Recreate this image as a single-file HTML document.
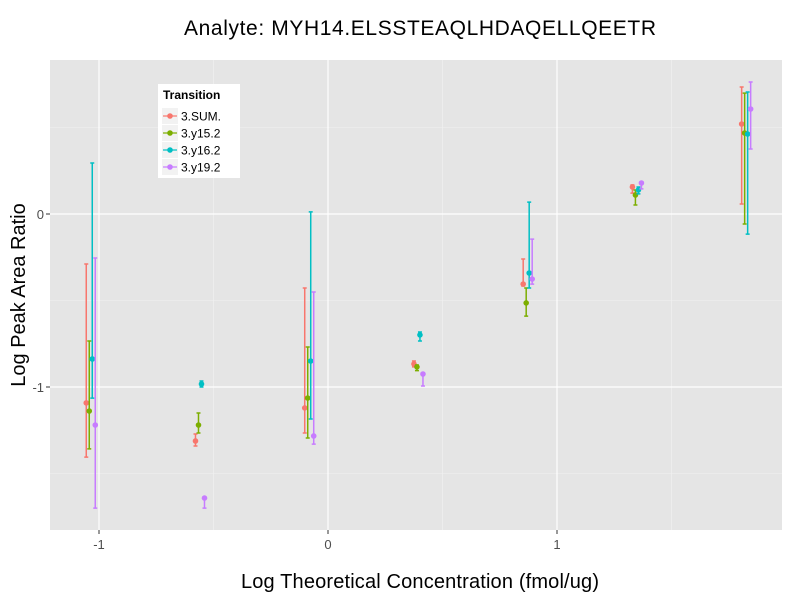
<!DOCTYPE html>
<html><head><meta charset="utf-8"><style>
body{margin:0;background:#fff;}
svg{font-family:"Liberation Sans",sans-serif;}
</style></head><body>
<svg id="chart" width="800" height="600" xmlns="http://www.w3.org/2000/svg">
<rect width="800" height="600" fill="#fff"/>
<text x="420" y="35" font-size="21" text-anchor="middle" textLength="472">Analyte: MYH14.ELSSTEAQLHDAQELLQEETR</text>
<rect x="50" y="60" width="732" height="470" fill="#e5e5e5"/>
<g id="grid"></g>
<g id="marks"></g>
<g id="axes"></g>
<text x="420" y="588" font-size="20" text-anchor="middle" textLength="358">Log Theoretical Concentration (fmol/ug)</text>
<text transform="translate(25,295) rotate(-90)" font-size="20" text-anchor="middle">Log Peak Area Ratio</text>
<g id="legend">
<rect x="158" y="84" width="82" height="94" fill="#fff"/>
<text x="163" y="99" font-size="12" font-weight="bold">Transition</text>
</g>
</svg>
<script>
const series = ["3.SUM.","3.y15.2","3.y16.2","3.y19.2"];
const colors = ["#F8766D","#7CAE00","#00BFC4","#C77CFF"];
const xValues = [-1.036,-0.559,-0.082,0.395,0.872,1.349,1.826];
const yMean = [
 [-1.092,-1.312,-1.121,-0.867,-0.405,0.156,0.520],
 [-1.139,-1.220,-1.064,-0.884,-0.514,0.110,0.468],
 [-0.838,-0.983,-0.850,-0.699,-0.341,0.139,0.462],
 [-1.220,-1.642,-1.283,-0.925,-0.376,0.179,0.607]
];
const yLow = [
 [-1.405,-1.341,-1.266,-0.884,-0.416,0.121,0.058],
 [-1.358,-1.266,-1.295,-0.905,-0.590,0.052,-0.058],
 [-1.064,-1.000,-1.185,-0.734,-0.428,0.116,-0.116],
 [-1.700,-1.700,-1.330,-0.994,-0.405,0.145,0.376]
];
const yHigh = [
 [-0.289,-1.272,-0.428,-0.850,-0.260,0.168,0.734],
 [-0.734,-1.150,-0.769,-0.873,-0.428,0.139,0.699],
 [0.295,-0.965,0.012,-0.682,0.069,0.156,0.705],
 [-0.254,-1.642,-0.451,-0.925,-0.145,0.185,0.763]
];
const xTicks = [-1,0,1];
const yTicks = [-1,0];
const NS="http://www.w3.org/2000/svg";
const X = v => 328 + v*229;
const Y = v => 214 - v*173;
const dodge = [-4.5,-1.5,1.5,4.5];
function mk(tag, attrs, parent){const e=document.createElementNS(NS,tag);for(const k in attrs)e.setAttribute(k,attrs[k]);parent.appendChild(e);return e;}
const grid=document.getElementById('grid'), marks=document.getElementById('marks'), axes=document.getElementById('axes');
[-0.5,0.5,1.5].forEach(v=>{const l=mk('line',{x1:X(v),x2:X(v),y1:60,y2:530,stroke:'#f2f2f2','stroke-width':0.6},grid);

});
[-1.5,-0.5,0.5].forEach(v=>{const l=mk('line',{x1:50,x2:782,y1:Y(v),y2:Y(v),stroke:'#f2f2f2','stroke-width':0.6},grid);

});
xTicks.forEach(v=>{const l=mk('line',{x1:X(v),x2:X(v),y1:60,y2:530,stroke:'#fff','stroke-width':1.2},grid);


const t=mk('line',{x1:X(v),x2:X(v),y1:530,y2:534,stroke:'#333'},axes);


const tx=mk('text',{x:X(v),y:549,'font-size':13,'text-anchor':'middle',fill:'#4d4d4d'},axes);tx.textContent=v;

});
yTicks.forEach(v=>{const l=mk('line',{x1:50,x2:782,y1:Y(v),y2:Y(v),stroke:'#fff','stroke-width':1.2},grid);


const t=mk('line',{x1:46,x2:50,y1:Y(v),y2:Y(v),stroke:'#333'},axes);


const tx=mk('text',{x:44,y:Y(v)+5,'font-size':13,'text-anchor':'end',fill:'#4d4d4d'},axes);tx.textContent=v;

});
series.forEach((s,si)=>{
 const g=mk('g',{},marks);
 
 
 xValues.forEach((xv,i)=>{
  const cx=X(xv)+dodge[si], c=colors[si];
  const e=mk('path',{d:`M${cx-2},${Y(yHigh[si][i])}H${cx+2}M${cx},${Y(yHigh[si][i])}V${Y(yLow[si][i])}M${cx-2},${Y(yLow[si][i])}H${cx+2}`,stroke:c,'stroke-width':1.5,fill:'none'},g);
  
  
  const p=mk('circle',{cx:cx,cy:Y(yMean[si][i]),r:2.8,fill:c},g);
  
  
 });
 const lg=document.getElementById('legend'), ly=116+si*17;
 const k=mk('rect',{x:162,y:ly-8,width:16,height:16,fill:'#f2f2f2'},lg);
 
 
 const kl=mk('line',{x1:163,x2:177,y1:ly,y2:ly,stroke:colors[si],'stroke-width':1.2},lg);
 
 
 const kc=mk('circle',{cx:170,cy:ly,r:2.8,fill:colors[si]},lg);
 
 
 const t=mk('text',{x:181,y:ly+4.5,'font-size':12},lg);t.textContent=s;
 
 
});
</script>
</body></html>
